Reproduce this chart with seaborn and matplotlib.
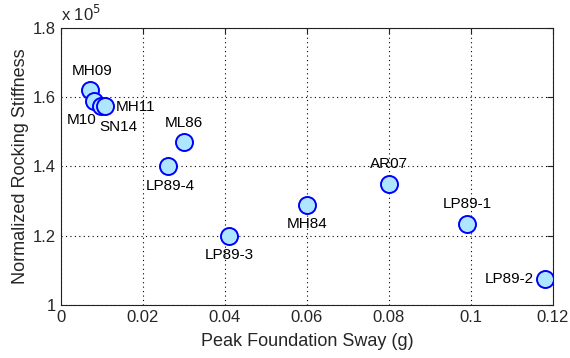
import matplotlib
matplotlib.use("Agg")
import matplotlib.pyplot as plt
import seaborn as sns
import pandas as pd

# Site records: peak foundation sway (g) vs normalized rocking stiffness (x 10^5)
names = ["MH09", "M10", "SN14", "MH11", "ML86", "LP89-4", "LP89-3",
         "MH84", "AR07", "LP89-1", "LP89-2"]
sway = [0.007, 0.008, 0.0097, 0.0107, 0.030, 0.026, 0.041,
        0.060, 0.080, 0.099, 0.118]
stiffness = [1.62, 1.59, 1.575, 1.575, 1.47, 1.40, 1.20,
             1.29, 1.35, 1.235, 1.075]

x_ticks = [0, 0.02, 0.04, 0.06, 0.08, 0.1, 0.12]
x_tick_labels = ["0", "0.02", "0.04", "0.06", "0.08", "0.1", "0.12"]
y_ticks = [1.0, 1.2, 1.4, 1.6, 1.8]
y_tick_labels = ["1", "1.2", "1.4", "1.6", "1.8"]

# label placement relative to each marker (dx, dy in points, ha, va)
label_pos = {
    "MH09": (2, 9, "center", "bottom"),
    "M10": (-9, -14, "center", "center"),
    "SN14": (13, -15, "center", "center"),
    "MH11": (8, -1, "left", "center"),
    "ML86": (0, 9, "center", "bottom"),
    "LP89-4": (2, -9, "center", "top"),
    "LP89-3": (0, -9, "center", "top"),
    "MH84": (0, -9, "center", "top"),
    "AR07": (0, 9, "center", "bottom"),
    "LP89-1": (0, 9, "center", "bottom"),
    "LP89-2": (-8, 0, "right", "center"),
}

sns.set_style("white")
plt.rcParams["font.family"] = ["Liberation Sans", "DejaVu Sans"]

df = pd.DataFrame({"name": names, "sway": sway, "stiffness": stiffness})

fig = plt.figure(figsize=(5.7, 3.58), dpi=100)
ax = fig.add_axes([0.107, 0.148, 0.863, 0.774])

sns.scatterplot(data=df, x="sway", y="stiffness", ax=ax, s=150,
                color="#aee6ff", edgecolor="#0000ff", linewidth=1.4,
                zorder=3, legend=False)

for n, xv, yv in zip(names, sway, stiffness):
    dx, dy, ha, va = label_pos[n]
    ax.annotate(n, (xv, yv), xytext=(dx, dy), textcoords="offset points",
                ha=ha, va=va, fontsize=11, color="black", zorder=4)

ax.set_xlim(0, 0.12)
ax.set_ylim(1.0, 1.8)
ax.set_xticks(x_ticks)
ax.set_xticklabels(x_tick_labels)
ax.set_yticks(y_ticks)
ax.set_yticklabels(y_tick_labels)
ax.tick_params(direction="in", length=4, width=0.8, labelsize=12,
               top=True, right=True, color="#222222")
ax.grid(True, linestyle=(0, (1, 3)), color="black", linewidth=0.8)
for sp in ax.spines.values():
    sp.set_color("#222222")
    sp.set_linewidth(0.8)

ax.set_xlabel("Peak Foundation Sway (g)", fontsize=13, labelpad=6)
ax.set_ylabel("Normalized Rocking Stiffness", fontsize=13, labelpad=3)
ax.text(0.0, 1.015, r"x 10$^5$", transform=ax.transAxes, fontsize=12,
        ha="left", va="bottom")

fig.savefig("out.png", dpi=100)
